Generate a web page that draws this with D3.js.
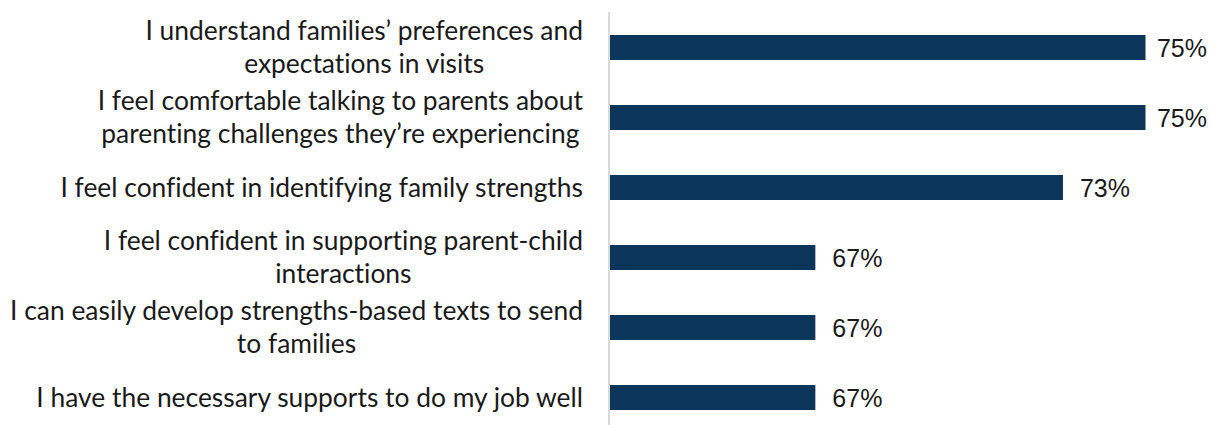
<!DOCTYPE html>
<html>
<head>
<meta charset="utf-8">
<script src="https://cdn.jsdelivr.net/npm/d3@7"></script>
<style>
  html, body { margin: 0; padding: 0; background: #ffffff; }
  svg { display: block; }
  text { font-variant-ligatures: none; font-feature-settings: "liga" 0; }
</style>
</head>
<body>
<svg id="chart" width="1210" height="425"></svg>
<script>
// Survey statements (line breaks mark where each label wraps)
const categories = [
  "I understand families’ preferences and\nexpectations in visits",
  "I feel comfortable talking to parents about\nparenting challenges they’re experiencing",
  "I feel confident in identifying family strengths",
  "I feel confident in supporting parent-child\ninteractions",
  "I can easily develop strengths-based texts to send\nto families",
  "I have the necessary supports to do my job well"
];

// Share of respondents who agree (percent)
const values = [75, 75, 73, 67, 67, 67];

const valueLabels = ["75%", "75%", "73%", "67%", "67%", "67%"];

const svg = d3.select("#chart");

const axisX = 609;
const labelRight = 583;
const chartRight = 1207;

const x = d3.scaleLinear()
  .domain([62, 75])
  .range([axisX, 1145.5]);

const y = d3.scaleBand()
  .domain(categories)
  .range([12.5, 432.5])
  .paddingInner(0.643)
  .paddingOuter(0.3215);

// Bars
svg.append("g")
  .selectAll("rect")
  .data(categories)
  .join("rect")
  .attr("x", axisX)
  .attr("y", d => y(d))
  .attr("width", (d, i) => x(values[i]) - axisX)
  .attr("height", y.bandwidth())
  .attr("fill", "#0c355a");

// Vertical category axis line
svg.append("line")
  .attr("x1", axisX).attr("x2", axisX)
  .attr("y1", 12).attr("y2", 425)
  .attr("stroke", "#d9d9d9")
  .attr("stroke-width", 2);

// Category labels, right-aligned beside the axis; wrapped lines centered on the first
const lineGap = 33;
const labels = svg.append("g")
  .attr("font-family", "Lato, 'Noto Sans', sans-serif")
  .attr("font-size", 26.4)
  .attr("fill", "#1a1a1a");

categories.forEach(cat => {
  const lines = cat.split("\n");
  const cy = y(cat) + y.bandwidth() / 2;
  const first = cy - (lines.length - 1) * lineGap / 2;
  const t = labels.append("text").attr("text-anchor", "end");
  const spans = lines.map((ln, j) =>
    t.append("tspan")
      .attr("x", labelRight)
      .attr("y", first + j * lineGap + 9)
      .text(ln)
  );
  if (spans.length > 1) {
    const w0 = spans[0].node().getComputedTextLength();
    const mid = labelRight - w0 / 2;
    t.attr("text-anchor", "middle");
    spans.forEach(s => s.attr("x", mid));
  }
});

// Value labels at the end of each bar, kept inside the chart's right edge
svg.append("g")
  .selectAll("text")
  .data(categories)
  .join("text")
  .attr("y", d => y(d) + y.bandwidth() / 2 + 9.5)
  .attr("font-family", "'Liberation Sans', Arial, sans-serif")
  .attr("font-size", 25)
  .attr("fill", "#1a1a1a")
  .text((d, i) => valueLabels[i])
  .attr("x", function (d, i) {
    const w = this.getComputedTextLength();
    return Math.min(x(values[i]) + 17, chartRight - w);
  });
</script>
</body>
</html>
